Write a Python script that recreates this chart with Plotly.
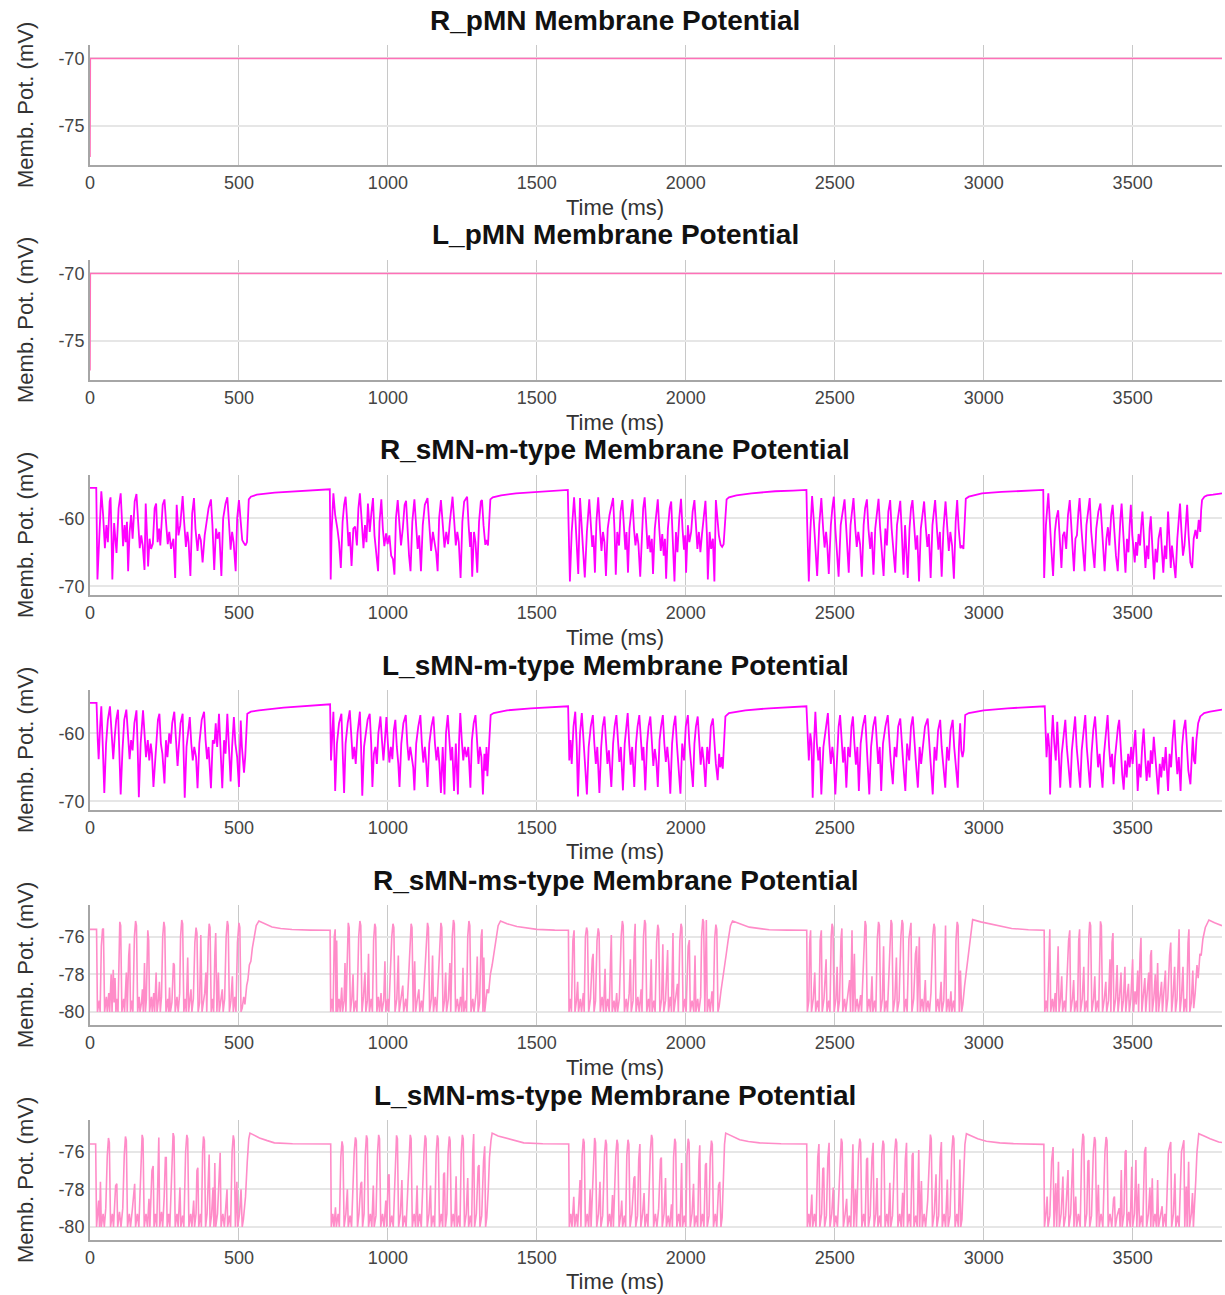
import plotly.graph_objects as go

# ---------------- data (time ms, membrane potential mV) ----------------
titles = ["R_pMN Membrane Potential", "L_pMN Membrane Potential",
          "R_sMN-m-type Membrane Potential", "L_sMN-m-type Membrane Potential",
          "R_sMN-ms-type Membrane Potential", "L_sMN-ms-type Membrane Potential"]
x_ticks = [0, 500, 1000, 1500, 2000, 2500, 3000, 3500]
y_ticks_pmn = [-75, -70]
y_ticks_sm = [-70, -60]
y_ticks_sms = [-80, -78, -76]

r_pmn = [(0, -77.3), (1, -70.0), (3800, -70.0)]
l_pmn = [(0, -77.2), (1, -70.0), (3800, -70.0)]

r_sm = [
 (0,-55.5),(21,-55.5),(25,-69.0),(31,-62.0),(38,-56.0),(44,-59.5),(50,-64.4),(55,-61.0),(60,-63.5),(66,-57.5),(69,-56.9),(72,-62.0),(75,-69.0),(81,-60.7),(86,-63.0),(89,-65.1),(96,-58.5),(103,-56.3),(107,-60.0),(111,-64.1),(116,-61.0),(120,-63.5),(124,-60.5),(128,-67.8),(133,-62.0),(138,-59.5),(143,-63.0),(150,-57.5),(156,-56.4),(161,-60.0),(167,-64.4),(172,-62.5),(177,-64.0),(183,-67.6),(187,-57.8),(191,-62.0),(195,-67.1),(200,-63.0),(205,-64.5),(211,-63.7),(217,-58.5),(222,-57.8),(227,-63.5),(232,-61.5),(236,-64.0),(244,-58.0),(250,-57.2),(256,-61.0),(261,-63.8),(266,-62.0),(272,-64.5),(280,-63.0),(286,-68.8),(291,-58.0),(297,-62.5),(303,-61.0),(311,-56.7),(316,-60.5),(322,-64.2),(327,-62.0),(331,-63.5),(337,-68.5),(343,-59.3),(349,-57.0),(354,-61.5),(361,-64.8),(366,-62.3),(372,-63.2),(378,-66.5),(385,-62.5),(390,-61.0),(398,-58.5),(406,-57.2),(411,-61.0),(417,-67.6),(423,-61.5),(428,-63.0),(434,-62.0),(441,-68.5),(447,-60.0),(455,-57.8),(461,-56.9),(467,-61.0),(472,-64.6),(477,-62.0),(482,-63.5),(489,-67.8),(494,-60.0),(500,-57.3),(505,-60.5),(511,-63.2),(516,-63.6),(522,-64.0),(527,-63.5),(533,-57.2),(540,-56.8),(560,-56.5),(620,-56.2),(700,-56.0),(805,-55.7),
 (808,-69.0),(811,-62.0),(817,-56.3),(823,-59.5),(831,-61.7),(836,-63.5),(842,-67.3),(848,-60.5),(853,-58.0),(858,-56.8),(863,-60.2),(868,-64.1),(872,-62.0),(878,-67.0),(884,-61.5),(890,-61.2),(896,-64.0),(901,-58.5),(906,-56.3),(912,-60.8),(918,-64.4),(923,-61.0),(928,-63.5),(933,-57.8),(939,-62.0),(945,-59.0),(950,-57.0),(955,-62.5),(961,-64.8),(967,-67.8),(972,-60.5),(978,-57.2),(983,-61.5),(988,-64.1),(994,-62.2),(999,-63.8),(1005,-62.5),(1011,-65.5),(1017,-66.0),(1022,-68.3),(1027,-60.0),(1033,-57.3),(1039,-61.0),(1044,-64.0),(1050,-61.5),(1056,-58.0),(1061,-57.4),(1067,-63.0),(1071,-65.5),(1076,-67.8),(1082,-60.5),(1089,-57.2),(1094,-61.5),(1100,-64.5),(1105,-62.5),(1111,-67.8),(1117,-61.0),(1124,-58.0),(1133,-57.0),(1139,-61.0),(1145,-64.8),(1151,-62.0),(1157,-63.5),(1162,-65.0),(1167,-67.8),(1172,-60.0),(1178,-57.3),(1184,-61.5),(1190,-64.3),(1196,-62.0),(1202,-63.8),(1208,-60.5),(1213,-58.0),(1217,-56.8),(1222,-60.0),(1228,-64.0),(1233,-62.0),(1238,-63.5),(1244,-68.8),(1250,-60.5),(1256,-57.5),(1266,-56.8),(1271,-61.0),(1276,-64.2),(1279,-62.0),(1283,-68.6),(1289,-62.0),(1294,-63.5),(1300,-68.0),(1306,-60.5),(1312,-57.5),(1316,-57.3),(1321,-61.0),(1327,-63.9),(1331,-63.2),(1336,-64.0),(1340,-60.5),(1344,-57.2),(1352,-56.9),(1380,-56.6),(1430,-56.3),(1500,-56.1),(1560,-55.9),(1604,-55.8),
 (1606,-60.0),(1611,-69.3),(1617,-62.0),(1625,-56.9),(1630,-60.5),(1634,-64.0),(1639,-68.2),(1645,-57.0),(1650,-61.5),(1655,-64.5),(1661,-68.7),(1668,-62.0),(1676,-57.2),(1681,-61.0),(1686,-64.2),(1690,-62.5),(1695,-68.0),(1700,-60.5),(1706,-56.9),(1712,-61.5),(1717,-64.8),(1722,-62.0),(1727,-63.5),(1732,-68.5),(1738,-61.5),(1744,-59.5),(1750,-58.0),(1756,-57.0),(1761,-62.0),(1765,-68.3),(1770,-62.0),(1776,-64.0),(1781,-59.0),(1787,-57.3),(1792,-61.0),(1797,-64.6),(1801,-62.0),(1806,-68.0),(1811,-61.5),(1816,-59.0),(1821,-57.2),(1826,-61.5),(1831,-64.0),(1836,-62.2),(1841,-63.8),(1847,-68.6),(1853,-61.0),(1857,-58.5),(1862,-56.9),(1867,-61.0),(1872,-64.5),(1877,-62.5),(1881,-65.0),(1886,-63.0),(1890,-68.2),(1896,-61.5),(1901,-59.0),(1906,-57.2),(1911,-61.5),(1916,-64.8),(1921,-62.3),(1926,-65.5),(1930,-63.0),(1934,-68.9),(1940,-61.5),(1946,-58.5),(1951,-57.5),(1956,-62.0),(1962,-69.3),(1967,-62.0),(1972,-65.0),(1978,-60.0),(1984,-57.1),(1989,-61.5),(1994,-64.6),(1998,-62.5),(2001,-68.0),(2007,-61.0),(2012,-63.5),(2018,-62.0),(2023,-59.0),(2029,-57.3),(2034,-61.5),(2039,-64.5),(2044,-62.0),(2049,-65.0),(2054,-62.5),(2060,-59.5),(2066,-57.4),(2071,-62.5),(2074,-69.0),(2080,-62.0),(2085,-64.5),(2091,-63.0),(2096,-69.3),(2101,-57.3),(2106,-60.5),(2111,-62.5),(2117,-63.9),(2122,-64.2),(2127,-63.8),(2133,-60.0),(2137,-57.2),(2145,-56.9),(2170,-56.6),(2220,-56.3),(2300,-56.0),(2360,-55.9),(2405,-55.8),
 (2407,-60.0),(2413,-69.3),(2418,-62.0),(2424,-56.7),(2430,-60.5),(2435,-64.5),(2441,-68.5),(2448,-61.0),(2455,-57.0),(2461,-61.5),(2466,-64.3),(2471,-62.0),(2475,-64.0),(2480,-68.2),(2487,-61.0),(2492,-58.5),(2497,-56.8),(2502,-61.5),(2507,-64.6),(2513,-68.6),(2520,-61.0),(2527,-59.0),(2533,-57.2),(2538,-61.0),(2542,-64.5),(2547,-68.0),(2553,-61.0),(2558,-59.0),(2563,-57.0),(2569,-61.5),(2574,-64.2),(2579,-62.0),(2585,-63.8),(2591,-68.6),(2597,-61.0),(2602,-58.5),(2608,-57.2),(2613,-61.5),(2619,-64.5),(2624,-62.0),(2630,-68.3),(2636,-61.5),(2641,-59.0),(2647,-57.1),(2652,-61.2),(2657,-64.8),(2664,-68.5),(2670,-61.5),(2675,-64.0),(2680,-59.0),(2686,-57.3),(2691,-61.5),(2697,-64.5),(2703,-68.0),(2709,-61.0),(2715,-58.5),(2720,-57.4),(2725,-62.0),(2731,-68.3),(2736,-61.0),(2741,-64.5),(2745,-68.8),(2751,-61.5),(2756,-58.5),(2761,-57.3),(2767,-61.5),(2772,-64.6),(2777,-62.5),(2783,-69.3),(2789,-61.5),(2795,-59.0),(2800,-57.5),(2806,-61.5),(2811,-64.2),(2816,-62.3),(2822,-68.8),(2828,-61.0),(2833,-59.0),(2837,-57.3),(2843,-61.5),(2848,-64.6),(2853,-62.0),(2859,-68.6),(2865,-61.5),(2869,-59.0),(2872,-57.5),(2878,-61.5),(2883,-64.8),(2888,-62.0),(2894,-64.0),(2900,-68.9),(2906,-60.5),(2911,-57.3),(2916,-61.5),(2922,-64.4),(2927,-64.0),(2932,-64.5),(2936,-60.0),(2940,-57.1),(2950,-56.8),(2994,-56.3),(3060,-56.1),(3130,-55.9),(3200,-55.8),
 (3203,-68.8),(3209,-61.0),(3217,-56.3),(3222,-61.0),(3226,-63.7),(3233,-68.5),(3239,-62.0),(3244,-60.0),(3250,-58.8),(3256,-63.5),(3261,-67.3),(3266,-62.5),(3271,-62.0),(3277,-64.5),(3283,-59.5),(3289,-57.3),(3294,-61.5),(3299,-66.0),(3303,-67.8),(3308,-63.0),(3313,-62.5),(3318,-59.0),(3322,-57.0),(3328,-61.5),(3333,-64.0),(3339,-67.8),(3345,-61.0),(3350,-59.0),(3356,-57.0),(3361,-62.0),(3366,-64.5),(3372,-67.3),(3378,-61.5),(3385,-59.0),(3392,-57.8),(3397,-61.5),(3402,-64.5),(3406,-67.8),(3412,-63.0),(3417,-61.3),(3422,-64.0),(3428,-59.5),(3433,-58.0),(3439,-62.0),(3444,-65.5),(3450,-67.8),(3455,-62.5),(3459,-60.0),(3463,-57.8),(3468,-62.0),(3472,-66.0),(3476,-68.0),(3481,-63.0),(3486,-65.0),(3490,-61.0),(3494,-58.0),(3499,-62.5),(3503,-64.5),(3507,-66.5),(3511,-63.5),(3515,-65.5),(3520,-62.3),(3525,-64.0),(3529,-61.0),(3533,-59.0),(3538,-63.0),(3543,-67.3),(3548,-64.0),(3553,-66.0),(3557,-61.5),(3561,-59.7),(3566,-64.0),(3572,-69.0),(3577,-64.5),(3582,-66.5),(3587,-63.0),(3594,-61.3),(3598,-64.5),(3603,-68.0),(3608,-64.0),(3613,-66.0),(3619,-59.0),(3624,-63.5),(3628,-67.3),(3632,-64.0),(3637,-66.5),(3644,-68.8),(3650,-63.0),(3655,-60.0),(3659,-57.8),(3664,-62.0),(3669,-65.5),(3674,-64.0),(3678,-61.0),(3683,-58.0),(3688,-62.5),(3694,-66.5),(3700,-67.3),(3705,-63.0),(3711,-61.7),(3716,-63.0),(3722,-60.2),(3727,-62.0),(3730,-58.8),(3733,-57.3),(3741,-56.8),(3750,-56.6),(3770,-56.5),(3800,-56.3),
]

l_sm = [
 (0,-55.5),(22,-55.5),(26,-61.0),(29,-63.8),(34,-59.0),(38,-56.0),(43,-62.0),(48,-68.8),(54,-61.5),(60,-58.0),(67,-56.0),(72,-60.5),(78,-63.8),(83,-60.5),(88,-58.0),(94,-56.5),(98,-62.0),(103,-69.0),(109,-62.5),(115,-58.0),(122,-56.5),(127,-60.5),(133,-63.8),(138,-61.0),(143,-62.5),(149,-58.5),(156,-56.6),(160,-62.0),(164,-69.4),(170,-61.5),(178,-56.6),(183,-60.0),(188,-63.5),(194,-61.0),(199,-64.0),(204,-61.5),(208,-63.0),(213,-67.9),(217,-65.0),(222,-61.0),(228,-58.0),(233,-57.1),(238,-61.5),(243,-63.0),(250,-67.4),(255,-61.0),(260,-63.5),(266,-60.0),(271,-61.5),(276,-58.5),(283,-56.8),(288,-60.5),(294,-64.8),(299,-61.5),(304,-58.5),(311,-57.1),(315,-63.0),(318,-69.5),(324,-62.0),(329,-59.5),(335,-57.6),(340,-61.5),(345,-64.0),(350,-62.0),(356,-63.5),(361,-68.1),(367,-61.5),(375,-58.0),(383,-56.8),(388,-61.0),(393,-63.8),(398,-62.0),(402,-65.5),(406,-68.1),(412,-61.0),(418,-61.5),(422,-58.5),(427,-62.0),(433,-57.1),(438,-62.0),(444,-68.1),(450,-61.0),(455,-63.0),(461,-57.1),(466,-61.5),(472,-67.1),(477,-62.0),(483,-57.6),(488,-61.5),(494,-63.5),(500,-67.9),(506,-58.1),(510,-62.0),(514,-64.5),(517,-65.8),(521,-63.5),(524,-61.0),(528,-57.1),(540,-56.8),(567,-56.6),(650,-56.2),(730,-55.9),(806,-55.7),
 (809,-64.0),(813,-60.0),(817,-56.8),(820,-62.0),(823,-68.5),(829,-61.5),(836,-58.5),(844,-57.1),(848,-62.0),(853,-68.8),(858,-61.5),(865,-58.5),(872,-56.6),(877,-61.0),(882,-63.8),(887,-62.0),(892,-64.5),(898,-60.0),(906,-56.8),(910,-62.0),(914,-69.2),(920,-62.0),(926,-60.0),(932,-58.0),(939,-57.1),(944,-61.5),(948,-67.9),(953,-63.0),(958,-62.0),(963,-64.5),(968,-60.0),(975,-57.5),(980,-61.0),(985,-64.0),(990,-61.0),(995,-57.6),(1000,-61.5),(1005,-64.3),(1010,-62.0),(1015,-63.8),(1020,-59.5),(1025,-58.0),(1030,-62.0),(1035,-64.5),(1039,-67.9),(1045,-61.5),(1052,-58.5),(1060,-57.3),(1065,-61.5),(1070,-64.0),(1075,-62.0),(1080,-63.5),(1085,-65.0),(1089,-68.4),(1095,-61.5),(1102,-59.0),(1109,-57.3),(1114,-61.5),(1119,-64.3),(1124,-62.0),(1128,-64.0),(1133,-67.9),(1139,-61.5),(1146,-59.0),(1153,-57.5),(1158,-61.5),(1163,-64.0),(1168,-62.0),(1173,-64.5),(1178,-68.8),(1184,-62.0),(1190,-69.0),(1195,-60.0),(1201,-57.3),(1206,-61.5),(1211,-64.0),(1216,-62.0),(1222,-68.5),(1228,-61.5),(1235,-69.0),(1239,-61.0),(1243,-57.0),(1248,-61.0),(1253,-64.0),(1258,-62.0),(1264,-63.5),(1270,-62.0),(1277,-68.0),(1282,-61.0),(1288,-58.5),(1294,-57.3),(1299,-61.5),(1304,-64.5),(1309,-62.0),(1314,-63.5),(1319,-69.0),(1324,-63.0),(1328,-65.5),(1331,-62.0),(1334,-66.3),(1338,-63.5),(1341,-60.0),(1345,-57.3),(1355,-57.0),(1400,-56.6),(1480,-56.3),(1550,-56.1),(1605,-56.0),
 (1609,-64.0),(1613,-61.0),(1617,-64.5),(1623,-59.0),(1629,-56.8),(1634,-62.0),(1638,-69.3),(1645,-60.0),(1651,-57.0),(1656,-61.5),(1661,-64.0),(1668,-69.0),(1674,-62.0),(1681,-59.0),(1688,-57.3),(1693,-61.5),(1698,-64.5),(1703,-62.0),(1710,-68.8),(1716,-62.0),(1721,-59.0),(1727,-57.5),(1732,-61.5),(1737,-64.5),(1742,-62.5),(1750,-67.9),(1756,-61.5),(1761,-59.0),(1767,-57.3),(1772,-61.5),(1777,-64.2),(1782,-62.0),(1789,-68.4),(1795,-61.5),(1800,-59.0),(1805,-57.0),(1810,-61.5),(1815,-64.6),(1820,-62.0),(1827,-67.9),(1833,-61.5),(1838,-59.0),(1844,-57.3),(1849,-61.5),(1854,-64.0),(1858,-62.0),(1864,-68.4),(1870,-61.5),(1875,-59.0),(1881,-57.5),(1886,-62.0),(1891,-64.8),(1896,-62.3),(1901,-64.0),(1906,-67.9),(1912,-61.0),(1917,-59.0),(1923,-57.3),(1928,-61.5),(1933,-64.2),(1938,-62.0),(1943,-64.5),(1948,-68.9),(1954,-61.5),(1959,-59.0),(1965,-57.4),(1970,-61.5),(1975,-64.5),(1982,-68.9),(1988,-61.5),(1994,-64.0),(2000,-59.0),(2007,-57.3),(2012,-61.5),(2017,-64.5),(2024,-67.9),(2029,-61.5),(2034,-59.0),(2040,-57.5),(2045,-61.5),(2050,-64.6),(2055,-62.0),(2060,-64.0),(2066,-67.9),(2072,-62.0),(2078,-64.5),(2084,-59.0),(2091,-57.8),(2096,-62.0),(2101,-64.5),(2107,-66.9),(2112,-63.0),(2116,-65.0),(2120,-63.5),(2124,-65.2),(2128,-62.0),(2133,-57.5),(2145,-57.0),(2200,-56.6),(2280,-56.3),(2350,-56.1),(2405,-56.0),
 (2413,-64.0),(2418,-60.0),(2422,-61.5),(2426,-69.5),(2431,-61.0),(2435,-56.8),(2440,-61.5),(2445,-64.0),(2450,-62.0),(2455,-69.0),(2462,-62.0),(2470,-59.0),(2477,-57.0),(2482,-61.5),(2487,-64.5),(2492,-62.0),(2497,-64.0),(2502,-69.0),(2508,-62.0),(2513,-59.0),(2518,-57.3),(2523,-61.5),(2528,-64.3),(2533,-62.0),(2539,-68.0),(2545,-62.0),(2551,-63.5),(2556,-59.0),(2561,-57.5),(2566,-61.5),(2571,-64.6),(2576,-62.0),(2581,-68.5),(2587,-61.5),(2594,-59.0),(2602,-57.3),(2607,-61.5),(2611,-64.0),(2616,-69.0),(2622,-62.0),(2629,-59.0),(2636,-57.5),(2641,-61.5),(2646,-64.5),(2651,-62.0),(2656,-68.5),(2662,-61.5),(2670,-59.0),(2678,-57.3),(2683,-61.5),(2688,-64.2),(2695,-67.5),(2701,-62.0),(2707,-63.5),(2713,-59.0),(2720,-57.8),(2725,-61.5),(2730,-64.5),(2737,-68.5),(2743,-61.5),(2750,-64.0),(2756,-59.0),(2762,-57.5),(2767,-61.5),(2772,-64.0),(2779,-68.0),(2785,-62.0),(2790,-64.5),(2796,-62.0),(2803,-59.0),(2812,-57.8),(2817,-61.5),(2822,-64.5),(2829,-69.0),(2835,-62.0),(2841,-64.0),(2847,-59.5),(2854,-58.0),(2859,-62.0),(2864,-64.5),(2871,-68.0),(2877,-62.0),(2883,-64.0),(2889,-59.5),(2896,-58.0),(2901,-62.0),(2906,-64.5),(2913,-68.0),(2917,-62.0),(2921,-58.5),(2925,-62.5),(2929,-63.5),(2933,-62.5),(2938,-57.3),(2950,-57.0),(3000,-56.6),(3080,-56.3),(3150,-56.1),(3205,-56.0),
 (3211,-63.5),(3216,-60.0),(3220,-62.0),(3223,-69.0),(3228,-61.0),(3232,-57.3),(3237,-61.5),(3242,-64.0),(3247,-58.3),(3252,-62.5),(3257,-68.0),(3262,-63.0),(3268,-60.0),(3274,-58.0),(3279,-62.0),(3284,-64.5),(3291,-68.0),(3296,-62.5),(3301,-60.0),(3307,-57.5),(3312,-62.0),(3317,-64.5),(3324,-68.0),(3329,-62.5),(3335,-59.5),(3341,-57.3),(3346,-62.0),(3351,-64.5),(3357,-68.0),(3362,-63.0),(3368,-59.5),(3374,-57.5),(3379,-62.0),(3384,-65.0),(3389,-63.0),(3394,-65.5),(3399,-68.0),(3404,-63.0),(3410,-59.5),(3416,-57.3),(3421,-62.0),(3426,-65.0),(3431,-63.0),(3436,-67.5),(3441,-63.5),(3446,-61.0),(3451,-59.0),(3455,-58.0),(3460,-62.5),(3465,-66.0),(3470,-68.3),(3475,-64.0),(3480,-66.5),(3485,-63.0),(3490,-65.0),(3495,-62.0),(3500,-64.5),(3505,-61.0),(3509,-59.5),(3513,-63.5),(3517,-68.5),(3522,-64.5),(3527,-66.5),(3532,-62.0),(3537,-59.3),(3542,-63.5),(3547,-67.0),(3552,-64.0),(3557,-66.5),(3561,-62.5),(3566,-64.5),(3571,-60.5),(3576,-63.0),(3581,-66.0),(3586,-69.0),(3591,-64.5),(3596,-66.5),(3601,-63.5),(3606,-65.5),(3611,-62.0),(3615,-64.5),(3619,-68.5),(3624,-63.0),(3629,-65.0),(3634,-61.0),(3640,-58.0),(3645,-62.5),(3650,-66.0),(3655,-63.5),(3661,-68.5),(3666,-62.0),(3671,-59.5),(3677,-58.0),(3682,-62.0),(3687,-65.5),(3694,-67.5),(3698,-63.0),(3702,-60.5),(3706,-64.0),(3710,-64.5),(3714,-61.0),(3720,-58.5),(3727,-57.5),(3740,-57.0),(3760,-56.8),(3800,-56.5),
]

r_sms = [
 (0,-75.6),(22,-75.6),(25,-80.0),(31,-79.4),(34,-80.0),(38,-76.5),(42,-75.6),(45,-75.55),(49,-80.0),(55,-79.2),(58,-80.0),(63,-79.0),(66,-80.0),(71,-78.0),(74,-80.0),(78,-77.75),(81,-79.5),(84,-78.2),(87,-80.0),(91,-79.3),(94,-80.0),(97,-76.0),(100,-75.2),(103,-75.4),(107,-80.0),(113,-79.3),(116,-80.0),(122,-77.9),(125,-80.0),(130,-77.0),(133,-76.35),(136,-80.0),(141,-79.4),(144,-80.0),(149,-76.0),(153,-75.15),(156,-75.4),(160,-80.0),(165,-79.2),(168,-80.0),(173,-79.5),(176,-78.8),(179,-80.0),(183,-77.4),(186,-80.0),(189,-79.4),(191,-76.5),(194,-75.65),(197,-76.2),(200,-80.0),(206,-79.2),(209,-80.0),(214,-79.0),(217,-80.0),(222,-77.9),(225,-80.0),(230,-79.3),(233,-78.4),(236,-80.0),(240,-79.2),(244,-76.0),(248,-75.2),(251,-75.5),(255,-80.0),(261,-79.3),(264,-80.0),(267,-78.7),(270,-80.0),(275,-79.5),(280,-77.4),(283,-77.5),(286,-80.0),(292,-79.2),(296,-80.0),(301,-79.0),(304,-76.0),(308,-75.1),(311,-75.3),(315,-80.0),(320,-79.3),(323,-80.0),(328,-77.1),(331,-80.0),(336,-79.4),(339,-78.8),(342,-80.0),(347,-79.3),(352,-76.3),(356,-75.5),(359,-75.8),(363,-80.0),(368,-79.5),(372,-75.9),(376,-80.0),(381,-79.4),(385,-79.0),(389,-77.9),(392,-80.0),(397,-76.2),(400,-75.3),(403,-75.5),(407,-80.0),(412,-79.3),(415,-80.0),(419,-77.0),(422,-75.8),(426,-80.0),(431,-77.9),(434,-80.0),(439,-79.4),(444,-78.8),(447,-80.0),(452,-79.3),(457,-76.0),(461,-75.15),(464,-75.4),(468,-80.0),(473,-79.4),(478,-78.1),(481,-80.0),(486,-79.2),(490,-80.0),(495,-76.3),(500,-75.25),(503,-75.5),(507,-80.0),(511,-79.8),(516,-79.2),(520,-79.6),(526,-78.6),(530,-78.3),(535,-77.5),(540,-77.3),(545,-76.6),(550,-76.2),(558,-75.4),(567,-75.15),(590,-75.3),(611,-75.47),(640,-75.55),(678,-75.61),(740,-75.64),(806,-75.65),
 (808,-80.0),(813,-79.3),(816,-80.0),(820,-76.0),(823,-75.6),(826,-80.0),(828,-76.2),(831,-80.0),(836,-79.3),(840,-80.0),(845,-78.7),(848,-80.0),(853,-79.4),(856,-77.4),(859,-80.0),(864,-76.0),(867,-75.25),(870,-75.5),(874,-80.0),(879,-79.3),(883,-78.0),(886,-80.0),(892,-79.4),(896,-80.0),(902,-76.0),(906,-75.15),(909,-75.4),(913,-80.0),(918,-79.2),(923,-77.9),(926,-80.0),(931,-79.4),(935,-76.9),(938,-80.0),(944,-79.3),(948,-80.0),(952,-76.2),(956,-75.3),(959,-75.5),(963,-80.0),(968,-79.2),(972,-80.0),(977,-79.0),(980,-80.0),(986,-79.4),(990,-77.3),(993,-80.0),(999,-79.3),(1003,-80.0),(1013,-76.0),(1017,-75.3),(1020,-75.5),(1024,-80.0),(1030,-79.3),(1035,-77.0),(1038,-80.0),(1044,-79.4),(1050,-78.6),(1053,-80.0),(1060,-79.3),(1064,-80.0),(1074,-76.1),(1078,-75.3),(1081,-75.5),(1085,-80.0),(1090,-77.3),(1093,-80.0),(1099,-79.3),(1104,-78.8),(1107,-80.0),(1113,-79.4),(1117,-80.0),(1129,-76.0),(1133,-75.25),(1136,-75.5),(1140,-80.0),(1146,-79.3),(1150,-77.0),(1153,-80.0),(1159,-79.2),(1164,-80.0),(1174,-76.0),(1178,-75.25),(1181,-75.5),(1185,-80.0),(1190,-79.4),(1194,-77.9),(1197,-80.0),(1203,-79.3),(1208,-77.4),(1211,-80.0),(1216,-76.0),(1220,-75.1),(1223,-75.3),(1227,-80.0),(1233,-79.3),(1238,-80.0),(1244,-79.2),(1248,-80.0),(1252,-77.65),(1255,-80.0),(1261,-79.4),(1264,-80.0),(1268,-76.0),(1272,-75.15),(1275,-75.4),(1279,-80.0),(1285,-79.3),(1289,-80.0),(1296,-79.0),(1300,-77.05),(1303,-80.0),(1308,-79.5),(1313,-76.0),(1316,-75.6),(1319,-80.0),(1322,-77.1),(1325,-80.0),(1328,-79.6),(1333,-78.8),(1338,-79.0),(1344,-78.0),(1350,-77.5),(1356,-76.8),(1362,-76.2),(1370,-75.4),(1378,-75.15),(1400,-75.3),(1433,-75.45),(1470,-75.55),(1500,-75.6),(1560,-75.64),(1606,-75.65),
 (1608,-80.0),(1613,-79.3),(1616,-80.0),(1621,-76.2),(1625,-75.65),(1628,-80.0),(1633,-79.4),(1637,-78.4),(1640,-80.0),(1646,-79.3),(1650,-80.0),(1656,-79.0),(1659,-80.0),(1663,-76.0),(1667,-75.5),(1670,-75.7),(1674,-80.0),(1680,-79.3),(1686,-77.2),(1689,-76.9),(1692,-80.0),(1697,-79.4),(1702,-76.2),(1706,-75.55),(1709,-75.8),(1713,-80.0),(1719,-79.2),(1724,-80.0),(1729,-77.7),(1732,-80.0),(1738,-79.3),(1743,-80.0),(1747,-77.5),(1750,-75.9),(1753,-80.0),(1759,-79.4),(1763,-80.0),(1768,-79.0),(1771,-80.0),(1777,-79.3),(1783,-76.0),(1787,-75.15),(1790,-75.4),(1794,-80.0),(1800,-79.3),(1804,-80.0),(1810,-79.0),(1814,-77.2),(1817,-80.0),(1823,-79.4),(1827,-76.2),(1830,-75.3),(1833,-80.0),(1839,-79.2),(1844,-80.0),(1850,-78.8),(1853,-80.0),(1858,-76.0),(1862,-75.1),(1865,-75.3),(1869,-80.0),(1875,-79.3),(1879,-80.0),(1884,-77.2),(1887,-80.0),(1893,-79.4),(1897,-80.0),(1902,-76.3),(1906,-75.35),(1909,-75.6),(1913,-80.0),(1919,-79.3),(1923,-76.4),(1926,-80.0),(1932,-79.4),(1939,-76.7),(1942,-80.0),(1948,-79.2),(1952,-80.0),(1957,-75.8),(1960,-80.0),(1966,-79.3),(1972,-78.5),(1975,-80.0),(1980,-76.2),(1984,-75.3),(1987,-75.5),(1991,-80.0),(1997,-79.3),(2001,-80.0),(2008,-76.5),(2012,-76.17),(2015,-80.0),(2021,-79.4),(2027,-80.0),(2031,-77.0),(2034,-80.0),(2040,-79.3),(2044,-80.0),(2050,-79.2),(2053,-76.0),(2057,-75.05),(2060,-75.2),(2064,-80.0),(2069,-75.1),(2072,-80.0),(2078,-79.3),(2082,-80.0),(2088,-78.9),(2092,-80.0),(2097,-76.1),(2101,-75.35),(2104,-75.6),(2108,-80.0),(2112,-79.7),(2118,-78.9),(2124,-78.3),(2130,-77.5),(2136,-76.9),(2142,-76.2),(2150,-75.4),(2157,-75.15),(2180,-75.3),(2213,-75.48),(2250,-75.56),(2280,-75.62),(2340,-75.64),(2406,-75.65),
 (2408,-80.0),(2413,-79.4),(2416,-76.3),(2419,-75.65),(2422,-80.0),(2428,-79.3),(2433,-77.9),(2436,-80.0),(2442,-79.4),(2447,-80.0),(2451,-76.2),(2455,-75.65),(2458,-80.0),(2464,-79.3),(2471,-77.2),(2474,-80.0),(2480,-79.4),(2484,-80.0),(2488,-76.0),(2491,-75.3),(2494,-75.5),(2498,-80.0),(2504,-79.3),(2508,-77.6),(2511,-80.0),(2516,-79.4),(2521,-76.1),(2524,-75.55),(2527,-80.0),(2533,-79.3),(2537,-80.0),(2544,-79.0),(2550,-78.3),(2553,-80.0),(2558,-75.65),(2561,-80.0),(2566,-76.9),(2569,-80.0),(2575,-79.3),(2580,-80.0),(2587,-79.1),(2590,-80.0),(2598,-76.0),(2602,-75.15),(2605,-75.4),(2609,-80.0),(2615,-79.3),(2620,-80.0),(2625,-78.1),(2628,-80.0),(2634,-79.4),(2638,-80.0),(2643,-76.1),(2647,-75.2),(2650,-75.4),(2654,-80.0),(2660,-79.3),(2664,-76.5),(2667,-80.0),(2673,-79.4),(2677,-80.0),(2685,-76.0),(2689,-75.1),(2692,-75.3),(2696,-80.0),(2702,-79.3),(2707,-77.1),(2710,-80.0),(2716,-79.4),(2722,-76.0),(2726,-75.1),(2729,-75.3),(2733,-80.0),(2739,-79.3),(2743,-80.0),(2749,-76.1),(2752,-75.6),(2756,-75.25),(2759,-80.0),(2765,-79.3),(2771,-76.9),(2775,-76.5),(2778,-80.0),(2784,-76.0),(2787,-80.0),(2793,-79.3),(2798,-80.0),(2804,-78.3),(2807,-80.0),(2813,-79.4),(2818,-80.0),(2823,-79.0),(2829,-76.0),(2833,-75.3),(2836,-75.5),(2840,-80.0),(2846,-79.3),(2851,-80.0),(2857,-78.4),(2860,-80.0),(2866,-79.4),(2869,-76.5),(2872,-75.4),(2875,-80.0),(2881,-79.3),(2885,-80.0),(2890,-78.9),(2893,-80.0),(2899,-79.4),(2903,-80.0),(2907,-76.2),(2911,-75.2),(2914,-75.4),(2918,-80.0),(2922,-77.8),(2926,-80.0),(2930,-79.6),(2936,-78.6),(2942,-77.8),(2948,-76.9),(2954,-76.0),(2963,-75.08),(2990,-75.2),(3017,-75.3),(3060,-75.45),(3094,-75.55),(3150,-75.62),(3203,-75.65),
 (3205,-80.0),(3210,-79.4),(3214,-80.0),(3219,-76.3),(3222,-75.6),(3225,-80.0),(3231,-79.3),(3235,-80.0),(3240,-79.0),(3243,-80.0),(3247,-77.0),(3250,-76.5),(3253,-80.0),(3258,-79.3),(3262,-78.1),(3265,-80.0),(3271,-79.4),(3275,-80.0),(3285,-76.2),(3289,-75.65),(3292,-80.0),(3298,-79.3),(3302,-78.3),(3305,-80.0),(3311,-79.4),(3315,-80.0),(3319,-76.2),(3322,-75.6),(3325,-80.0),(3331,-79.3),(3336,-77.6),(3339,-80.0),(3345,-79.4),(3349,-80.0),(3353,-76.0),(3356,-75.2),(3359,-75.4),(3363,-80.0),(3369,-79.3),(3373,-78.1),(3376,-80.0),(3382,-79.4),(3386,-80.0),(3389,-76.0),(3392,-75.17),(3395,-75.4),(3399,-80.0),(3405,-79.3),(3410,-78.4),(3413,-80.0),(3419,-79.4),(3424,-77.2),(3427,-80.0),(3431,-76.3),(3434,-75.8),(3437,-80.0),(3443,-79.3),(3448,-77.5),(3451,-80.0),(3456,-79.2),(3461,-77.9),(3464,-80.0),(3469,-79.4),(3474,-77.6),(3477,-80.0),(3482,-79.1),(3486,-78.5),(3489,-80.0),(3494,-79.3),(3500,-77.2),(3503,-80.0),(3508,-78.9),(3512,-79.6),(3517,-77.8),(3520,-80.0),(3525,-76.9),(3528,-76.05),(3531,-80.0),(3536,-79.2),(3541,-78.2),(3544,-80.0),(3549,-79.0),(3554,-77.9),(3557,-80.0),(3560,-77.0),(3563,-76.7),(3566,-80.0),(3571,-79.3),(3576,-78.0),(3579,-80.0),(3584,-77.4),(3587,-80.0),(3592,-79.2),(3597,-78.4),(3600,-80.0),(3605,-79.0),(3610,-77.8),(3613,-80.0),(3618,-79.3),(3624,-77.0),(3628,-76.3),(3631,-80.0),(3636,-79.1),(3641,-77.6),(3644,-80.0),(3649,-79.3),(3653,-76.3),(3656,-75.6),(3659,-80.0),(3664,-79.2),(3669,-77.6),(3672,-80.0),(3677,-79.3),(3681,-80.0),(3686,-76.3),(3689,-75.6),(3692,-80.0),(3697,-79.5),(3702,-77.8),(3705,-79.8),(3710,-79.0),(3716,-77.5),(3720,-78.2),(3726,-76.9),(3730,-77.0),(3736,-76.1),(3744,-75.5),(3756,-75.1),(3775,-75.25),(3800,-75.4),
]

l_sms = [
 (0,-75.58),(19,-75.58),(22,-80.0),(26,-79.3),(29,-78.6),(32,-80.0),(35,-77.6),(38,-80.0),(44,-79.3),(48,-80.0),(53,-79.0),(58,-76.2),(62,-75.26),(65,-75.5),(69,-80.0),(75,-79.3),(79,-80.0),(86,-77.8),(90,-77.7),(93,-80.0),(99,-79.2),(104,-80.0),(110,-79.0),(115,-76.2),(119,-75.18),(122,-75.4),(126,-80.0),(132,-79.3),(136,-80.0),(142,-79.1),(147,-77.9),(150,-77.7),(153,-80.0),(159,-79.3),(164,-80.0),(171,-76.2),(175,-75.09),(178,-75.3),(182,-80.0),(188,-79.3),(193,-80.0),(198,-78.5),(201,-80.0),(208,-77.0),(212,-76.75),(215,-80.0),(220,-79.3),(224,-80.0),(228,-76.0),(231,-75.23),(234,-80.0),(240,-79.2),(244,-80.0),(249,-78.4),(253,-76.3),(256,-76.3),(259,-80.0),(264,-79.3),(268,-80.0),(275,-76.0),(279,-75.0),(282,-75.2),(286,-80.0),(292,-79.3),(296,-80.0),(302,-77.9),(305,-80.0),(311,-79.4),(315,-80.0),(321,-76.0),(325,-75.09),(328,-75.3),(332,-80.0),(338,-79.3),(342,-80.0),(348,-78.6),(351,-80.0),(356,-79.3),(359,-77.0),(362,-76.85),(365,-80.0),(371,-79.3),(374,-80.0),(378,-76.0),(381,-75.18),(384,-75.4),(388,-80.0),(393,-79.3),(397,-76.5),(400,-76.14),(403,-80.0),(408,-79.4),(413,-77.9),(416,-80.0),(419,-76.6),(422,-80.0),(428,-79.3),(434,-76.3),(437,-76.05),(440,-80.0),(446,-79.3),(451,-80.0),(456,-79.0),(460,-78.0),(462,-80.0),(468,-79.4),(472,-80.0),(477,-76.0),(481,-75.12),(484,-75.4),(488,-80.0),(493,-77.6),(496,-80.0),(502,-79.3),(507,-78.0),(511,-80.0),(515,-79.6),(522,-78.4),(528,-76.5),(533,-75.3),(537,-75.0),(552,-75.12),(569,-75.26),(595,-75.4),(619,-75.52),(680,-75.57),(769,-75.58),(808,-75.58),
 (810,-80.0),(815,-79.3),(819,-80.0),(824,-78.95),(827,-80.0),(833,-79.3),(837,-80.0),(842,-76.3),(846,-75.44),(849,-75.7),(853,-80.0),(859,-79.3),(864,-78.0),(867,-80.0),(873,-79.4),(878,-80.0),(887,-76.0),(891,-75.23),(894,-75.4),(898,-80.0),(903,-79.3),(909,-77.7),(912,-77.6),(915,-80.0),(920,-79.3),(924,-76.2),(928,-75.12),(931,-75.3),(935,-80.0),(941,-79.3),(946,-80.0),(951,-77.8),(954,-80.0),(960,-79.4),(965,-76.1),(969,-75.09),(972,-75.3),(976,-80.0),(982,-79.3),(987,-80.0),(993,-78.6),(996,-80.0),(1001,-77.3),(1004,-77.2),(1007,-80.0),(1013,-79.4),(1018,-80.0),(1025,-76.1),(1029,-75.12),(1032,-75.3),(1036,-80.0),(1042,-79.3),(1047,-77.5),(1050,-80.0),(1056,-79.4),(1061,-80.0),(1071,-76.0),(1075,-75.09),(1078,-75.3),(1082,-80.0),(1088,-79.3),(1093,-80.0),(1098,-77.8),(1101,-80.0),(1107,-79.3),(1112,-80.0),(1121,-76.1),(1125,-75.12),(1128,-75.3),(1132,-80.0),(1138,-79.3),(1143,-77.8),(1146,-80.0),(1152,-79.4),(1157,-80.0),(1162,-76.1),(1166,-75.12),(1169,-75.3),(1173,-80.0),(1179,-79.3),(1184,-80.0),(1187,-77.2),(1190,-77.1),(1193,-80.0),(1198,-79.3),(1202,-76.1),(1206,-75.18),(1209,-75.4),(1213,-80.0),(1219,-79.3),(1224,-80.0),(1229,-77.3),(1232,-80.0),(1238,-79.4),(1242,-80.0),(1246,-76.1),(1250,-75.09),(1253,-75.3),(1257,-80.0),(1263,-79.3),(1268,-77.4),(1271,-80.0),(1277,-79.4),(1281,-80.0),(1285,-76.0),(1288,-75.05),(1291,-80.0),(1297,-79.3),(1303,-76.8),(1306,-76.7),(1309,-80.0),(1315,-79.4),(1321,-76.5),(1325,-75.7),(1328,-80.0),(1332,-79.5),(1337,-78.0),(1341,-76.3),(1346,-75.4),(1350,-75.0),(1370,-75.15),(1394,-75.26),(1425,-75.4),(1456,-75.52),(1520,-75.57),(1607,-75.58),
 (1609,-80.0),(1614,-79.3),(1618,-80.0),(1624,-78.4),(1627,-80.0),(1633,-79.3),(1637,-80.0),(1645,-77.5),(1648,-80.0),(1652,-76.2),(1656,-75.3),(1659,-75.5),(1663,-80.0),(1669,-79.3),(1674,-80.0),(1679,-78.0),(1682,-80.0),(1690,-76.1),(1694,-75.26),(1697,-75.5),(1701,-80.0),(1707,-79.3),(1712,-77.6),(1715,-80.0),(1721,-79.4),(1727,-76.2),(1731,-75.35),(1734,-75.6),(1738,-80.0),(1744,-79.3),(1749,-80.0),(1754,-78.3),(1757,-80.0),(1765,-76.2),(1769,-75.35),(1772,-75.6),(1776,-80.0),(1782,-79.3),(1785,-78.6),(1788,-80.0),(1794,-79.4),(1798,-80.0),(1802,-76.2),(1806,-75.35),(1809,-75.6),(1813,-80.0),(1819,-79.3),(1826,-77.4),(1829,-77.3),(1832,-80.0),(1838,-79.4),(1842,-76.4),(1846,-75.58),(1849,-80.0),(1855,-79.3),(1860,-78.2),(1863,-80.0),(1869,-79.3),(1873,-80.0),(1881,-76.0),(1885,-75.09),(1888,-75.3),(1892,-80.0),(1898,-79.3),(1903,-80.0),(1909,-79.0),(1915,-76.4),(1918,-76.3),(1921,-80.0),(1927,-79.3),(1932,-77.4),(1935,-80.0),(1941,-79.4),(1946,-80.0),(1952,-78.8),(1955,-80.0),(1959,-76.3),(1963,-75.3),(1966,-75.5),(1970,-80.0),(1976,-79.3),(1981,-80.0),(1986,-76.6),(1989,-80.0),(1995,-79.4),(2000,-80.0),(2004,-76.2),(2008,-75.3),(2011,-75.5),(2015,-80.0),(2021,-79.3),(2026,-77.7),(2029,-80.0),(2035,-79.4),(2040,-80.0),(2044,-76.5),(2047,-75.65),(2050,-80.0),(2056,-79.3),(2061,-80.0),(2066,-76.7),(2069,-76.6),(2072,-80.0),(2078,-79.4),(2082,-76.3),(2086,-75.4),(2089,-75.6),(2093,-80.0),(2099,-79.3),(2104,-80.0),(2110,-77.8),(2114,-77.6),(2118,-80.0),(2122,-79.5),(2126,-77.5),(2130,-75.6),(2134,-75.0),(2155,-75.15),(2181,-75.35),(2210,-75.45),(2248,-75.52),(2320,-75.57),(2406,-75.58),
 (2408,-80.0),(2413,-79.3),(2417,-80.0),(2423,-78.27),(2426,-80.0),(2432,-79.3),(2437,-80.0),(2443,-76.3),(2447,-75.58),(2450,-80.0),(2456,-79.3),(2460,-76.9),(2463,-76.85),(2466,-80.0),(2472,-79.4),(2477,-76.3),(2481,-75.52),(2484,-80.0),(2490,-79.3),(2495,-77.9),(2498,-80.0),(2504,-79.4),(2509,-80.0),(2518,-76.1),(2522,-75.29),(2525,-75.5),(2529,-80.0),(2535,-79.3),(2540,-78.5),(2543,-80.0),(2549,-79.4),(2554,-80.0),(2558,-76.3),(2561,-75.6),(2564,-80.0),(2570,-78.0),(2573,-80.0),(2580,-76.1),(2584,-75.29),(2587,-75.5),(2591,-80.0),(2597,-79.3),(2602,-80.0),(2607,-76.4),(2610,-76.32),(2613,-80.0),(2619,-79.4),(2625,-76.3),(2629,-75.52),(2632,-80.0),(2638,-79.3),(2642,-77.4),(2645,-80.0),(2651,-79.4),(2655,-80.0),(2658,-76.2),(2662,-75.4),(2665,-75.6),(2669,-80.0),(2675,-79.3),(2680,-80.0),(2685,-77.65),(2688,-80.0),(2694,-79.4),(2701,-76.1),(2705,-75.29),(2708,-75.5),(2712,-80.0),(2718,-79.3),(2723,-80.0),(2728,-78.18),(2731,-80.0),(2737,-76.4),(2741,-75.52),(2744,-80.0),(2750,-79.3),(2755,-80.0),(2760,-76.2),(2763,-76.05),(2766,-80.0),(2772,-79.4),(2777,-80.0),(2782,-75.9),(2785,-80.0),(2791,-77.56),(2794,-80.0),(2800,-79.3),(2805,-80.0),(2812,-78.6),(2817,-76.0),(2821,-75.08),(2824,-75.3),(2828,-80.0),(2834,-79.3),(2840,-77.2),(2843,-80.0),(2849,-79.4),(2854,-76.3),(2858,-75.47),(2861,-80.0),(2867,-79.3),(2872,-80.0),(2878,-77.47),(2881,-80.0),(2887,-79.4),(2893,-76.0),(2897,-75.12),(2900,-75.3),(2904,-80.0),(2910,-79.3),(2915,-80.0),(2920,-76.41),(2923,-80.0),(2927,-79.6),(2932,-77.5),(2937,-75.6),(2942,-75.03),(2960,-75.15),(2980,-75.3),(3009,-75.43),(3054,-75.52),(3100,-75.56),(3202,-75.6),
 (3204,-80.0),(3209,-79.3),(3213,-78.38),(3216,-80.0),(3222,-79.4),(3228,-76.5),(3233,-75.74),(3236,-80.0),(3242,-77.67),(3245,-80.0),(3251,-76.53),(3254,-80.0),(3260,-79.3),(3266,-77.32),(3269,-80.0),(3275,-79.4),(3283,-76.97),(3286,-80.0),(3292,-79.3),(3297,-76.2),(3300,-75.82),(3303,-80.0),(3309,-78.38),(3312,-80.0),(3318,-79.3),(3324,-80.0),(3329,-76.0),(3333,-75.03),(3336,-75.2),(3340,-80.0),(3346,-79.3),(3350,-76.5),(3353,-76.44),(3356,-80.0),(3362,-79.4),(3368,-76.0),(3372,-75.21),(3375,-75.4),(3379,-80.0),(3385,-77.76),(3388,-80.0),(3394,-79.3),(3400,-80.0),(3407,-76.0),(3411,-75.21),(3414,-75.4),(3418,-80.0),(3424,-79.3),(3430,-80.0),(3436,-78.5),(3439,-78.38),(3442,-80.0),(3448,-79.4),(3455,-79.0),(3458,-80.0),(3462,-76.97),(3465,-80.0),(3471,-79.3),(3475,-76.0),(3478,-75.91),(3481,-80.0),(3487,-79.2),(3492,-80.0),(3497,-76.8),(3500,-80.0),(3506,-79.3),(3511,-76.44),(3514,-80.0),(3520,-77.7),(3523,-80.0),(3529,-79.4),(3534,-80.0),(3540,-76.0),(3544,-75.74),(3547,-80.0),(3553,-79.3),(3558,-77.9),(3561,-80.0),(3566,-77.41),(3569,-80.0),(3575,-79.3),(3580,-80.0),(3584,-77.5),(3587,-80.0),(3593,-79.4),(3599,-78.9),(3602,-80.0),(3608,-79.3),(3612,-80.0),(3620,-76.0),(3628,-75.47),(3631,-80.0),(3637,-79.3),(3642,-77.15),(3645,-80.0),(3651,-79.4),(3656,-80.0),(3664,-76.0),(3672,-75.38),(3675,-80.0),(3680,-77.85),(3683,-80.0),(3688,-76.53),(3691,-80.0),(3697,-79.3),(3701,-78.2),(3704,-80.0),(3708,-79.0),(3712,-77.5),(3716,-76.0),(3722,-75.03),(3740,-75.15),(3760,-75.3),(3789,-75.47),(3800,-75.5),
]

series = [r_pmn, l_pmn, r_sm, l_sm, r_sms, l_sms]
colors = ["#ff70b8", "#ff70b8", "#ff00ff", "#ff00ff", "#ff8cc8", "#ff8cc8"]
widths = [1.6, 1.6, 1.8, 1.8, 1.6, 1.6]
y_ranges = [[-77.9, -69.0], [-77.9, -69.0], [-71.3, -53.6], [-71.3, -53.6], [-80.7, -74.3], [-80.7, -74.3]]
y_tickvals = [y_ticks_pmn, y_ticks_pmn, y_ticks_sm, y_ticks_sm, y_ticks_sms, y_ticks_sms]

# ---------------- layout ----------------
W, H = 1225, 1295
ml, mr, mt, mb = 90, 3, 45, 55
ph = H - mt - mb
pw = W - ml - mr
row_h, step = 120, 215
FONT = "Liberation Sans"

fig = go.Figure()
annotations = []
layout = {}
for i, pts in enumerate(series):
    n = "" if i == 0 else str(i + 1)
    t = [p[0] for p in pts]
    v = [p[1] for p in pts]
    fig.add_trace(go.Scatter(x=t, y=v, mode="lines", xaxis="x" + n, yaxis="y" + n,
                             line=dict(color=colors[i], width=widths[i]),
                             showlegend=False, hoverinfo="skip"))
    y1 = 1 - (i * step) / ph
    y0 = y1 - row_h / ph
    layout["xaxis" + n] = dict(domain=[0, 1], anchor="y" + n, range=[0, 3800],
                               tickvals=x_ticks, ticktext=[str(x) for x in x_ticks],
                               showgrid=True, gridcolor="#c8c8c8", gridwidth=1,
                               showline=True, linecolor="#a6a6a6", linewidth=2,
                               zeroline=False, ticks="",
                               tickfont=dict(family=FONT, size=18, color="#444"))
    layout["yaxis" + n] = dict(domain=[y0, y1], anchor="x" + n, range=y_ranges[i],
                               tickvals=y_tickvals[i], ticktext=[str(x) for x in y_tickvals[i]],
                               showgrid=True, gridcolor="#e6e6e6", gridwidth=2,
                               showline=True, linecolor="#a6a6a6", linewidth=2,
                               zeroline=False, ticks="",
                               tickfont=dict(family=FONT, size=18, color="#444"))
    annotations.append(dict(text="<b>" + titles[i] + "</b>", xref="paper", yref="paper",
                            x=(615 - ml) / pw, y=y1 + 25 / ph, xanchor="center", yanchor="middle",
                            showarrow=False, font=dict(family=FONT, size=28, color="#111")))
    annotations.append(dict(text="Time (ms)", xref="paper", yref="paper",
                            x=(615 - ml) / pw, y=y0 - 42 / ph, xanchor="center", yanchor="middle",
                            showarrow=False, font=dict(family=FONT, size=22, color="#333")))
    annotations.append(dict(text="Memb. Pot. (mV)", xref="paper", yref="paper",
                            x=(25 - ml) / pw, y=(y0 + y1) / 2, xanchor="center", yanchor="middle",
                            textangle=-90, showarrow=False,
                            font=dict(family=FONT, size=22, color="#333")))

fig.update_layout(width=W, height=H, margin=dict(l=ml, r=mr, t=mt, b=mb),
                  paper_bgcolor="white", plot_bgcolor="white",
                  annotations=annotations, **layout)
fig.write_html("out.html")
